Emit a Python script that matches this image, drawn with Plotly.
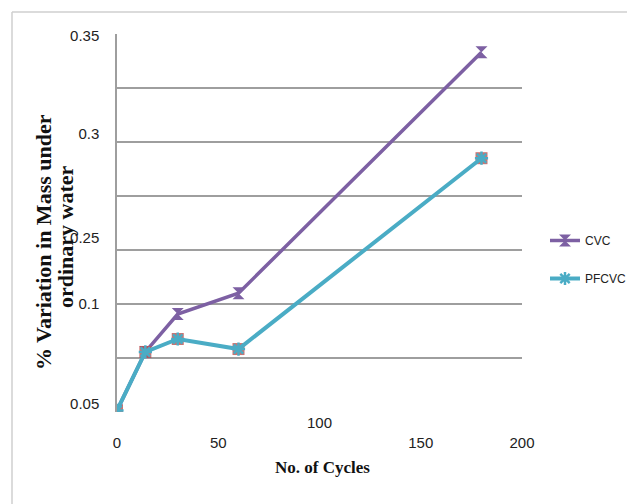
import plotly.graph_objects as go

cycles = [0, 14, 30, 60, 180]
cvc = [0.0015, 0.0556, 0.0907, 0.110, 0.333]
pfcvc = [0.0015, 0.0556, 0.0676, 0.0583, 0.235]

ytick_vals = [0.0074, 0.1, 0.161, 0.258, 0.348]
ytick_text = ["0.05", "0.1", "0.25", "0.3", "0.35"]
xtick_vals = [0, 50, 150, 200]
xtick_text = ["0", "50", "150", "200"]

PURPLE = "#7D60A3"
CYAN = "#4AACC5"
RED = "#C0504D"
GRID = "#9E9E9E"
SANS = "Liberation Sans Narrow, Liberation Sans, Arial"
TICKFONT = dict(family=SANS, size=15, color="#222")
SERIF = "Liberation Serif, Times New Roman, serif"

# the page body adds an 8px margin; work in screen pixels and offset
OFF = 8
FW, FH = 635 - OFF, 504 - OFF
# plot area in screen pixels: x 117..522, y 34..412
L, R, T, B = 117, 522, 34, 412
W, H = R - L, B - T


def px_x(p):
    return (p - L) / W


def px_y(p):
    return (B - p) / H


fig = go.Figure()
fig.add_trace(go.Scatter(
    x=cycles, y=cvc, name="CVC", mode="lines+markers", legendgroup="a",
    line=dict(color=PURPLE, width=3.5),
    marker=dict(symbol="hourglass", size=12, color=PURPLE)))
fig.add_trace(go.Scatter(
    x=cycles, y=pfcvc, mode="markers", showlegend=False, hoverinfo="skip",
    marker=dict(symbol="square", size=12, color=RED, opacity=0.8)))
fig.add_trace(go.Scatter(
    x=cycles, y=pfcvc, name="PFCVC", mode="lines+markers", legendgroup="b",
    line=dict(color=CYAN, width=4),
    marker=dict(symbol="asterisk", size=11, line=dict(color=CYAN, width=2.5), color=CYAN)))

fig.update_layout(
    width=FW, height=FH,
    margin=dict(l=L - OFF, r=FW - (R - OFF), t=T - OFF, b=FH - (B - OFF), autoexpand=False),
    paper_bgcolor="white", plot_bgcolor="white",
    showlegend=True,
    legend=dict(x=px_x(545), xanchor="left", y=px_y(226), yanchor="top",
                font=dict(family=SANS, size=12, color="#222"),
                tracegroupgap=19, bgcolor="rgba(0,0,0,0)"),
    xaxis=dict(range=[0, 200], showgrid=False, zeroline=False, showline=False,
               tickmode="array", tickvals=xtick_vals, ticktext=xtick_text,
               ticks="", ticklabelstandoff=20, tickfont=TICKFONT),
    yaxis=dict(range=[0, 0.35], showgrid=False, zeroline=False,
               showline=True, linecolor=GRID, linewidth=1.5,
               tickmode="array", tickvals=ytick_vals, ticktext=ytick_text,
               ticks="", ticklabelstandoff=13, tickfont=TICKFONT,
               minor=dict(tick0=0, dtick=0.05, showgrid=True, gridcolor=GRID, gridwidth=1.5, ticks="")),
    annotations=[
        dict(text="100", x=100, xref="x", y=px_y(422), yref="paper", showarrow=False,
             yanchor="middle", font=TICKFONT),
        dict(text="<b>No. of Cycles</b>", x=px_x(322), xref="paper", y=px_y(467), yref="paper",
             showarrow=False, yanchor="middle", font=dict(family=SERIF, size=17, color="#111")),
        dict(text="<b>% Variation in Mass under</b>", x=px_x(43), xref="paper",
             y=px_y(242), yref="paper", showarrow=False, textangle=-90,
             xanchor="center", yanchor="middle",
             font=dict(family=SERIF, size=22, color="#111")),
        dict(text="<b>ordinary water</b>", x=px_x(66), xref="paper",
             y=px_y(237), yref="paper", showarrow=False, textangle=-90,
             xanchor="center", yanchor="middle",
             font=dict(family=SERIF, size=22, color="#111")),
    ],
    shapes=[
        dict(type="line", xref="paper", yref="paper", x0=px_x(12), x1=px_x(700), y0=px_y(12), y1=px_y(12),
             line=dict(color="#CFCFCF", width=1.5)),
        dict(type="line", xref="paper", yref="paper", x0=px_x(12), x1=px_x(12), y0=px_y(12), y1=px_y(600),
             line=dict(color="#CFCFCF", width=1.5)),
    ],
)
fig.write_html("out.html")
